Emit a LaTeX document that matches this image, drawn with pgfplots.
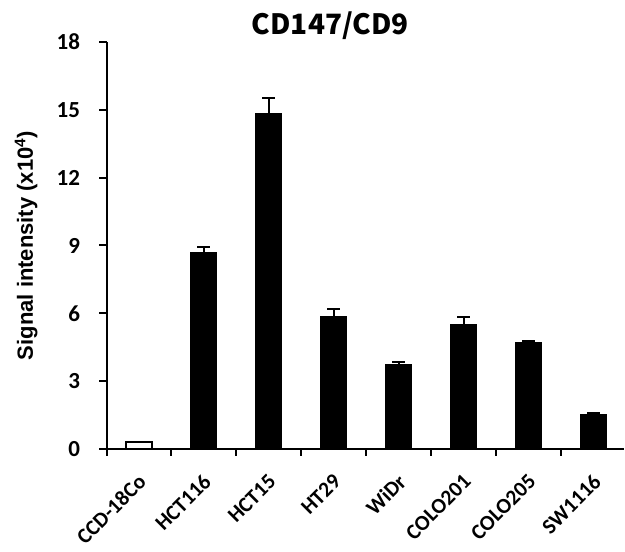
\documentclass[border=0pt]{standalone}
\usepackage{pgfplots}
\pgfplotsset{compat=1.18}
\usepackage{fontspec}
\setmainfont{Carlito}
\newfontfamily\arialf{Liberation Sans}
\newfontfamily\jpf{Noto Sans CJK JP}
\begin{document}
\begin{tikzpicture}[x=1pt,y=1pt]
\path[use as bounding box] (0,0) rectangle (625,552);
\begin{axis}[
  at={(106.5pt,103pt)}, anchor=south west,
  scale only axis, width=518pt, height=407pt,
  xmin=-0.5, xmax=7.47, ymin=0, ymax=18,
  axis x line=bottom, axis y line=left,
  axis line style={line width=2pt, -},
  ytick={0,3,...,18},
  xtick={0,...,7},
  xticklabels={CCD-18Co,HCT116,HCT15,HT29,WiDr,COLO201,COLO205,SW1116},
  minor xtick={-0.5,0.5,...,6.5},
  tick align=outside,
  major tick length=7pt, minor tick length=7pt,
  x tick style={draw=none},
  minor x tick style={draw=black, line width=2pt},
  y tick style={line width=2pt, black},
  /pgf/number format/assume math mode=true,
  yticklabel style={font=\fontsize{23}{23}\selectfont\bfseries, xshift=-16pt},
  xticklabel style={font=\fontsize{21.5}{21.5}\selectfont\bfseries, rotate=45, anchor=east, xshift=-10pt, yshift=-18pt},
  ylabel={\arialf\bfseries Signal intensity (x10\textsuperscript{4})},
  ylabel style={font=\fontsize{22}{22}\selectfont, at={(axis description cs:-0.155,0.5)}, anchor=center},
  title={\jpf\bfseries CD147/CD9},
  title style={font=\fontsize{28}{28}\selectfont, at={(axis description cs:0.432,1.026)}, anchor=center},
  clip=false,
]
\addplot[ybar, bar width=26pt, bar shift=0pt, fill=white, draw=black, line width=2pt,
  error bars/.cd, y dir=plus, y explicit, error bar style={line width=2pt},
  error mark options={rotate=90, mark size=6.5pt, line width=2pt}]
  coordinates {(0,0.30) +- (0,0.02)};
\addplot[ybar, bar width=26pt, bar shift=0pt, fill=black, draw=black, line width=1pt,
  error bars/.cd, y dir=plus, y explicit, error bar style={line width=2pt},
  error mark options={rotate=90, mark size=6.5pt, line width=2pt}]
  coordinates {
  (1,8.70) +- (0,0.22)
  (2,14.82) +- (0,0.70)
  (3,5.85) +- (0,0.36)
  (4,3.75) +- (0,0.10)
  (5,5.50) +- (0,0.33)
  (6,4.69) +- (0,0.10)
  (7,1.52) +- (0,0.07)
  };
\end{axis}
\end{tikzpicture}
\end{document}
